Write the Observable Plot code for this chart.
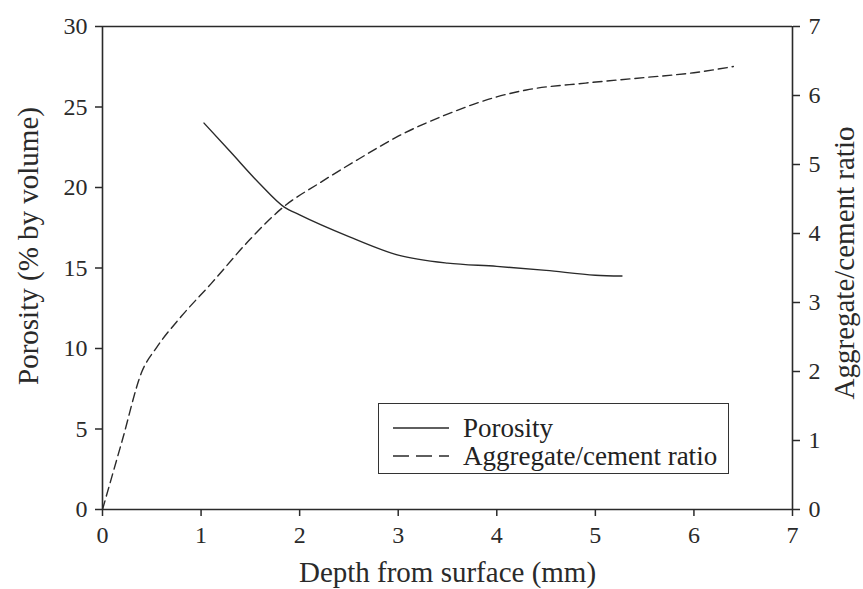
<!DOCTYPE html>
<html>
<head>
<meta charset="utf-8">
<script src="https://cdn.jsdelivr.net/npm/d3@7"></script>
<script src="https://cdn.jsdelivr.net/npm/@observablehq/plot@0.6"></script>
<style>
  html, body { margin: 0; padding: 0; background: #fff; }
  #wrap { position: relative; width: 863px; height: 589px; overflow: hidden; }
  #legend {
    position: absolute; left: 378px; top: 403px; width: 349px; height: 69px;
    border: 1.5px solid #333; background: #fff;
    font-family: "Liberation Serif", serif; font-size: 27px; color: #222;
  }
  #legend .row { position: absolute; left: 0; height: 28px; display: flex; align-items: center; white-space: nowrap; }
  #legend svg { margin-left: 14px; margin-right: 14px; }
</style>
</head>
<body>
<div id="wrap">
  <div id="chart"></div>
  <div id="legend"></div>
</div>
<script>
// Porosity (left axis, % by volume) vs depth (mm)
const porosityDepth = [1.03, 1.3, 1.6, 1.84, 2.0, 2.5, 3.0, 3.5, 4.0, 4.5, 5.0, 5.27];
const porosityValue = [24.0, 22.2, 20.2, 18.8, 18.3, 16.95, 15.8, 15.3, 15.1, 14.85, 14.55, 14.5];

// Aggregate/cement ratio (right axis) vs depth (mm)
const ratioDepth = [0, 0.2, 0.4, 0.55, 0.8, 1.1, 1.5, 1.84, 2.2, 2.6, 3.0, 3.5, 4.0, 4.3, 4.9, 5.5, 6.0, 6.4];
const ratioValue = [0, 1.0, 2.0, 2.35, 2.8, 3.27, 3.92, 4.39, 4.73, 5.08, 5.41, 5.73, 5.98, 6.08, 6.18, 6.26, 6.33, 6.42];

// Tick labels
const xTicks = [0, 1, 2, 3, 4, 5, 6, 7];
const leftTicks = [0, 5, 10, 15, 20, 25, 30];
const rightTicks = [0, 1, 2, 3, 4, 5, 6, 7];

const seriesNames = ["Porosity", "Aggregate/cement ratio"];
const xLabel = "Depth from surface (mm)";
const leftLabel = "Porosity (% by volume)";
const rightLabel = "Aggregate/cement ratio";

const LEFT_MAX = 30, RIGHT_MAX = 7;
const toLeft = v => v * LEFT_MAX / RIGHT_MAX;

const porosity = porosityDepth.map((d, i) => ({depth: d, value: porosityValue[i]}));
const ratio = ratioDepth.map((d, i) => ({depth: d, value: ratioValue[i]}));

const ink = "#2a2a2a";
const titleSize = 29;

const chart = Plot.plot({
  width: 863,
  height: 589,
  marginLeft: 102,
  marginRight: 71,
  marginTop: 26,
  marginBottom: 80,
  style: {fontFamily: "'Liberation Serif', serif", fontSize: "24px", color: ink, background: "#fff"},
  x: {domain: [0, 7]},
  y: {domain: [0, LEFT_MAX]},
  marks: [
    Plot.ruleY([0, LEFT_MAX], {stroke: ink, strokeWidth: 1.6}),
    Plot.ruleX([0, 7], {stroke: ink, strokeWidth: 1.6}),
    Plot.axisX({ticks: xTicks, tickSize: 7, tickPadding: 9, strokeWidth: 1.5, tickFormat: d => String(d), label: null}),
    Plot.axisY({anchor: "left", ticks: leftTicks, tickSize: 7, tickPadding: 8, strokeWidth: 1.5, tickFormat: d => String(d), label: null}),
    Plot.axisY({anchor: "right", ticks: rightTicks.map(toLeft), tickSize: 7, tickPadding: 9, strokeWidth: 1.5,
      tickFormat: d => String(Math.round(d * RIGHT_MAX / LEFT_MAX)), label: null}),
    // axis titles
    Plot.text([xLabel], {frameAnchor: "bottom", dy: 63, textAnchor: "middle", lineAnchor: "middle", fontSize: titleSize, fill: ink}),
    Plot.text([leftLabel], {frameAnchor: "left", dx: -74, dy: -22, rotate: -90, textAnchor: "middle", lineAnchor: "middle", fontSize: titleSize, fill: ink}),
    Plot.text([rightLabel], {frameAnchor: "right", dx: 52, dy: -5, rotate: -90, textAnchor: "middle", lineAnchor: "middle", fontSize: titleSize, fill: ink}),
    Plot.line(porosity, {x: "depth", y: "value", stroke: ink, strokeWidth: 1.4, curve: "monotone-x"}),
    Plot.line(ratio, {x: "depth", y: d => toLeft(d.value), stroke: ink, strokeWidth: 1.4, strokeDasharray: "9,5", curve: "monotone-x"})
  ]
});
document.getElementById("chart").appendChild(chart);

// Legend
const legend = document.getElementById("legend");
const dashes = [null, "16,7"];
seriesNames.forEach((name, i) => {
  const row = document.createElement("div");
  row.className = "row";
  row.style.top = (i === 0 ? 10 : 38) + "px";
  row.innerHTML = `<svg width="56" height="10"><line x1="0" y1="5" x2="56" y2="5" stroke="${ink}" stroke-width="1.5" ${dashes[i] ? `stroke-dasharray="${dashes[i]}"` : ""}/></svg><span>${name}</span>`;
  legend.appendChild(row);
});
</script>
</body>
</html>
